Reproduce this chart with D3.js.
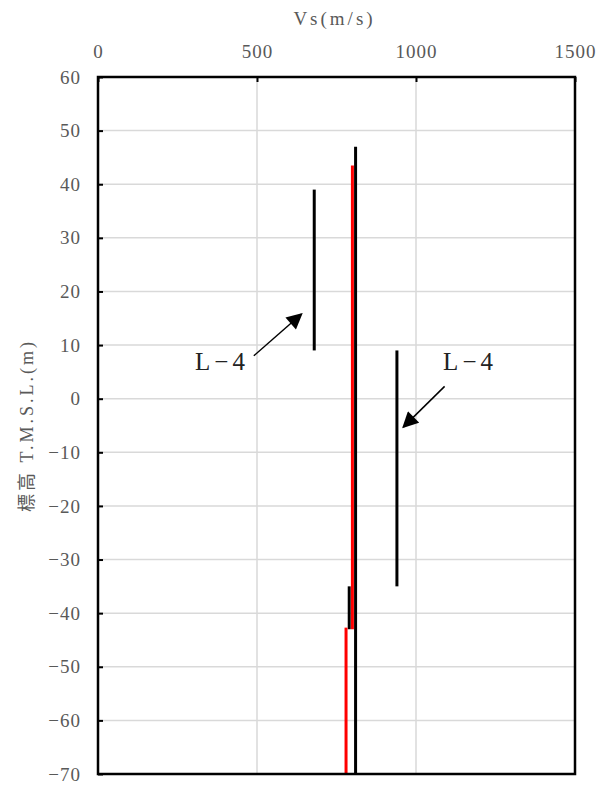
<!DOCTYPE html>
<html><head><meta charset="utf-8">
<script src="https://cdn.jsdelivr.net/npm/d3@7"></script>
<style>body{margin:0;background:#fff}</style>
</head><body>
<svg id="c" width="601" height="788"></svg>
<script>
const xTicks = [0, 500, 1000, 1500];
const yTicks = [60, 50, 40, 30, 20, 10, 0, -10, -20, -30, -40, -50, -60, -70];
// black segments: Vs, top elevation, bottom elevation
const blackVs = [680, 810, 940, 790];
const blackTop = [39, 47, 9, -35];
const blackBottom = [9, -70, -35, -43];
// red segments
const redVs = [800, 780];
const redTop = [43.5, -42.7];
const redBottom = [-43, -70];
const labels = ["L−4", "L−4"];
const labelVs = [390, 1170];
const labelElev = [5.3, 5.3];
const arrowFrom = [[490, 8], [1090, 2.3]];
const arrowTo = [[640, 15.8], [960, -5.3]];

const svg = d3.select("#c");
const L = 98, R = 575, T = 77, B = 774;
const x = d3.scaleLinear().domain([0, 1500]).range([L, R]);
const y = d3.scaleLinear().domain([-70, 60]).range([B, T]);
const font = "'Liberation Serif','Noto Sans CJK JP',serif";
const gray = "#595959";

const defs = svg.append("defs");
defs.append("marker").attr("id", "ah").attr("viewBox", "0 0 10 10").attr("refX", 9).attr("refY", 5)
  .attr("markerWidth", 18).attr("markerHeight", 16).attr("markerUnits", "userSpaceOnUse").attr("orient", "auto")
  .append("path").attr("d", "M0,0 L10,5 L0,10 z").attr("fill", "#000");

// gridlines
svg.append("g").selectAll("line").data(yTicks).join("line")
  .attr("x1", L).attr("x2", R).attr("y1", d => y(d)).attr("y2", d => y(d))
  .attr("stroke", "#d9d9d9").attr("stroke-width", 1.5);
svg.append("g").selectAll("line").data(xTicks).join("line")
  .attr("y1", T).attr("y2", B).attr("x1", d => x(d)).attr("x2", d => x(d))
  .attr("stroke", "#d9d9d9").attr("stroke-width", 1.5);

// axes
const gx = svg.append("g").attr("transform", `translate(0,${T})`)
  .call(d3.axisTop(x).tickValues(xTicks).tickFormat(d3.format("d")).tickSize(-5).tickPadding(19));
gx.select(".domain").remove();
gx.selectAll("line").attr("stroke", "#000").attr("stroke-width", 2);
gx.selectAll("text").attr("font-family", font).attr("font-size", 19).attr("letter-spacing", 1).attr("fill", gray);

const gy = svg.append("g").attr("transform", `translate(${L},0)`)
  .call(d3.axisLeft(y).tickValues(yTicks).tickSize(-5).tickPadding(17));
gy.select(".domain").remove();
gy.selectAll("line").attr("stroke", "#000").attr("stroke-width", 2);
gy.selectAll("text").attr("font-family", font).attr("font-size", 19).attr("letter-spacing", 1).attr("fill", gray);

// data segments
const blacks = blackVs.map((v, i) => ({v, t: blackTop[i], b: blackBottom[i]}));
const reds = redVs.map((v, i) => ({v, t: redTop[i], b: redBottom[i]}));
svg.append("g").selectAll("line").data(blacks).join("line")
  .attr("x1", d => x(d.v)).attr("x2", d => x(d.v)).attr("y1", d => y(d.t)).attr("y2", d => y(d.b))
  .attr("stroke", "#000").attr("stroke-width", 3);
svg.append("g").selectAll("line").data(reds).join("line")
  .attr("x1", d => x(d.v)).attr("x2", d => x(d.v)).attr("y1", d => y(d.t)).attr("y2", d => y(d.b))
  .attr("stroke", "#ff0000").attr("stroke-width", 3);

// plot border
svg.append("rect").attr("x", L).attr("y", T).attr("width", R - L).attr("height", B - T)
  .attr("fill", "none").attr("stroke", "#000").attr("stroke-width", 2.5);

// annotations
svg.append("g").selectAll("line").data(arrowFrom).join("line")
  .attr("x1", d => x(d[0])).attr("y1", d => y(d[1]))
  .attr("x2", (d, i) => x(arrowTo[i][0])).attr("y2", (d, i) => y(arrowTo[i][1]))
  .attr("stroke", "#000").attr("stroke-width", 1.5).attr("marker-end", "url(#ah)");
svg.append("g").selectAll("text").data(labels).join("text")
  .attr("x", (d, i) => x(labelVs[i])).attr("y", (d, i) => y(labelElev[i]))
  .attr("text-anchor", "middle").attr("font-family", font).attr("font-size", 25)
  .attr("letter-spacing", 4).attr("fill", "#222")
  .text(d => d);

// axis titles
svg.append("text").attr("x", (L + R) / 2 - 2).attr("y", 25).attr("text-anchor", "middle")
  .attr("font-family", font).attr("font-size", 19).attr("letter-spacing", 3).attr("fill", gray).text("Vs(m/s)");
svg.append("text").attr("transform", `translate(33,${(T + B) / 2}) rotate(-90)`).attr("text-anchor", "middle")
  .attr("font-family", font).attr("font-size", 18).attr("letter-spacing", 3).attr("fill", gray).text("標高 T.M.S.L.(m)");
</script>
</body></html>
